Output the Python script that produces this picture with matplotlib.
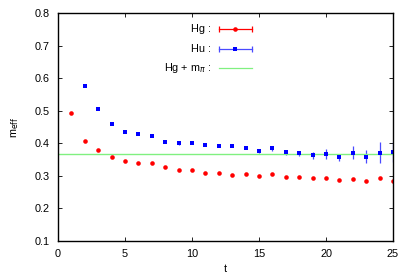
import numpy as np
import matplotlib
matplotlib.use("Agg")
import matplotlib.pyplot as plt

t_hg = [1, 2, 3, 4, 5, 6, 7, 8, 9, 10, 11, 12, 13, 14, 15, 16, 17, 18, 19, 20, 21, 22, 23, 24, 25]
m_hg = [0.494, 0.406, 0.380, 0.359, 0.345, 0.339, 0.340, 0.327, 0.318, 0.318, 0.310, 0.310, 0.303,
        0.307, 0.299, 0.305, 0.296, 0.296, 0.292, 0.292, 0.287, 0.289, 0.285, 0.294, 0.283]
err_hg = [0.002, 0.002, 0.002, 0.002, 0.002, 0.002, 0.002, 0.002, 0.002, 0.002, 0.002, 0.002, 0.002,
          0.002, 0.002, 0.002, 0.002, 0.002, 0.002, 0.002, 0.003, 0.003, 0.003, 0.004, 0.004]

t_hu = [2, 3, 4, 5, 6, 7, 8, 9, 10, 11, 12, 13, 14, 15, 16, 17, 18, 19, 20, 21, 22, 23, 24, 25]
m_hu = [0.576, 0.506, 0.460, 0.436, 0.428, 0.422, 0.405, 0.400, 0.401, 0.395, 0.392, 0.392, 0.387,
        0.376, 0.385, 0.372, 0.369, 0.363, 0.367, 0.357, 0.371, 0.359, 0.371, 0.373]
err_hu = [0.003, 0.003, 0.003, 0.003, 0.003, 0.003, 0.004, 0.004, 0.004, 0.004, 0.004, 0.004, 0.005,
          0.007, 0.008, 0.008, 0.008, 0.011, 0.014, 0.010, 0.020, 0.019, 0.032, 0.030]

hg_mpi = 0.367

red = "#ff0000"
blue = "#0000ff"
blue_err = "#4a4aff"
green = "#80f080"

plt.rcParams["font.family"] = ["Liberation Sans", "DejaVu Sans"]
plt.rcParams["font.size"] = 7.8

fig = plt.figure(figsize=(4.13, 2.74), dpi=100)
ax = fig.add_axes([0.1404, 0.1204, 0.8112, 0.8322])

ax.errorbar(t_hg, m_hg, yerr=err_hg, fmt="o", color=red, ms=3.3, mew=0, elinewidth=0.8,
            capsize=2, capthick=0.8)
ax.errorbar(t_hu, m_hu, yerr=err_hu, fmt="s", color=blue, ecolor=blue_err, ms=3.0, mew=0,
            elinewidth=0.9, capsize=2, capthick=0.9)
ax.axhline(hg_mpi, color=green, lw=1.0)

ax.set_xlim(0, 25)
ax.set_ylim(0.1, 0.8)
ax.set_xticks([0, 5, 10, 15, 20, 25])
ax.set_yticks([0.1, 0.2, 0.3, 0.4, 0.5, 0.6, 0.7, 0.8])
ax.tick_params(direction="in", top=True, right=True, length=3, width=0.6, pad=6)
for s in ax.spines.values():
    s.set_linewidth(1.0)
ax.set_xlabel("t", labelpad=3)
ax.set_ylabel(r"m$_{\rm eff}$", labelpad=10)

# gnuplot style key
key = [("Hg :", red, red, "o", 3.3), ("Hu :", blue, blue_err, "s", 3.0), (r"Hg + m$_\pi$ :", green, green, None, 0)]
ys = [0.929, 0.844, 0.758]
x0, x1 = 0.481, 0.578
for (lab, c, ec, mk, ms), y in zip(key, ys):
    ax.text(0.458, y, lab, transform=ax.transAxes, ha="right", va="center")
    ax.plot([x0, x1], [y, y], color=ec, lw=0.9, transform=ax.transAxes, clip_on=False)
    if mk:
        ax.plot([x0, x1], [y, y], ls="none", marker="|", ms=4, mew=0.9, color=ec,
                transform=ax.transAxes, clip_on=False)
        ax.plot([(x0 + x1) / 2], [y], ls="none", marker=mk, ms=ms, mew=0, color=c,
                transform=ax.transAxes, clip_on=False)

fig.savefig("out.png", dpi=100)
